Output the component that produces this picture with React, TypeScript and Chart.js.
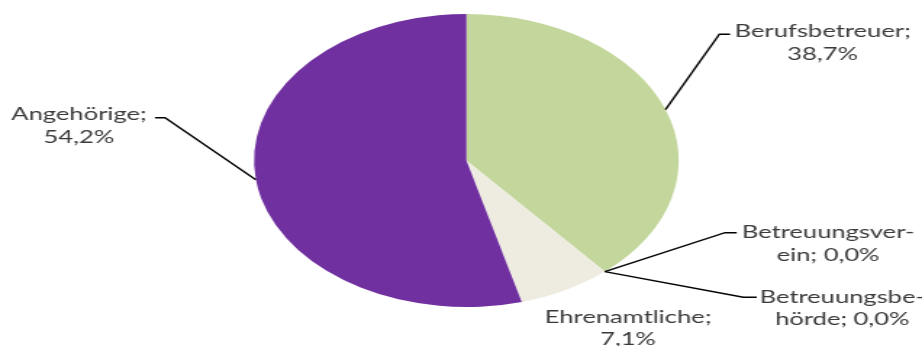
import { useEffect, useRef } from 'react';
import { Chart, ArcElement, PieController } from 'chart.js';

Chart.register(ArcElement, PieController);

// ---- data ----
const categories = ['Berufsbetreuer', 'Betreuungsverein', 'Betreuungsbehörde', 'Ehrenamtliche', 'Angehörige'];
const shares = [38.7, 0.0, 0.0, 7.1, 54.2];
// how each category name is wrapped in its label ("|" marks the line break)
const nameWraps = ['Berufsbetreuer;|', 'Betreuungsver-|ein;', 'Betreuungsbe-|hörde;', 'Ehrenamtliche;|', 'Angehörige;|'];
const sliceColors = ['#C3D69B', '#C3D69B', '#C3D69B', '#EEECE1', '#7030A0'];

// ---- layout (logical canvas px; canvas is stretched horizontally like the original) ----
const LOGICAL_W = 636;
const H = 346;
const DISPLAY_W = 922;
const FONT = '16.8px Lato, "Open Sans", sans-serif';
const TEXT_SX = 1.05;
const LINE_H = 22.7;
type LabelLayout = { elbow?: [number, number]; tailX?: number; cx: number; baseline: number };
const labelLayout: LabelLayout[] = [
  { elbow: [496.2, 34.3], tailX: 503.6, cx: 567.5, baseline: 37 },
  { elbow: [500.1, 232.7], tailX: 508.2, cx: 571.2, baseline: 238 },
  { elbow: [512.7, 297.3], tailX: 522, cx: 581, baseline: 302.5 },
  { cx: 433.2, baseline: 322.5 },
  { elbow: [113.8, 117.7], tailX: 106.9, cx: 54.5, baseline: 120 },
];

const fmt = (v: number) => v.toFixed(1).replace('.', ',') + '%';

function labelLines(i: number): string[] {
  const [a, b] = nameWraps[i].split('|');
  return b ? [a, b + ' ' + fmt(shares[i])] : [a, fmt(shares[i])];
}

const labelPlugin = {
  id: 'leaderLabels',
  afterDatasetsDraw(chart: any) {
    const ctx: CanvasRenderingContext2D = chart.ctx;
    const meta = chart.getDatasetMeta(0);
    ctx.save();
    meta.data.forEach((arc: any, i: number) => {
      const p = arc.getProps(['x', 'y', 'startAngle', 'endAngle', 'outerRadius'], true);
      const mid = (p.startAngle + p.endAngle) / 2;
      const ex = p.x + Math.cos(mid) * p.outerRadius;
      const ey = p.y + Math.sin(mid) * p.outerRadius;
      const L = labelLayout[i];
      if (L.elbow) {
        ctx.beginPath();
        ctx.strokeStyle = '#000000';
        ctx.lineWidth = 1.4;
        ctx.moveTo(ex, ey);
        ctx.lineTo(L.elbow[0], L.elbow[1]);
        ctx.lineTo(L.tailX as number, L.elbow[1]);
        ctx.stroke();
      }
      ctx.fillStyle = '#3a3a3a';
      ctx.font = FONT;
      ctx.textAlign = 'center';
      ctx.textBaseline = 'alphabetic';
      labelLines(i).forEach((t, k) => {
        ctx.save();
        ctx.translate(L.cx, L.baseline + k * LINE_H);
        ctx.scale(TEXT_SX, 1);
        ctx.fillText(t, 0, 0);
        ctx.restore();
      });
    });
    ctx.restore();
  },
};

export default function App() {
  const ref = useRef<HTMLCanvasElement | null>(null);
  useEffect(() => {
    document.body.style.margin = '0';
    const canvas = ref.current;
    if (!canvas) return;
    const chart = new Chart(canvas, {
      type: 'pie',
      data: {
        labels: categories,
        datasets: [
          {
            data: shares,
            backgroundColor: sliceColors,
            borderWidth: 0,
          },
        ],
      },
      options: {
        responsive: false,
        animation: false,
        devicePixelRatio: 1,
        layout: { padding: { left: 175.2, right: 167.8, top: 14, bottom: 39 } },
        plugins: { legend: { display: false }, tooltip: { enabled: false } },
      },
      plugins: [labelPlugin],
    });
    return () => chart.destroy();
  }, []);
  return (
    <div style={{ width: DISPLAY_W, height: H, overflow: 'hidden', background: '#fff' }}>
      <canvas
        ref={ref}
        width={LOGICAL_W}
        height={H}
        style={{ width: DISPLAY_W + 'px', height: H + 'px', display: 'block' }}
      />
    </div>
  );
}
